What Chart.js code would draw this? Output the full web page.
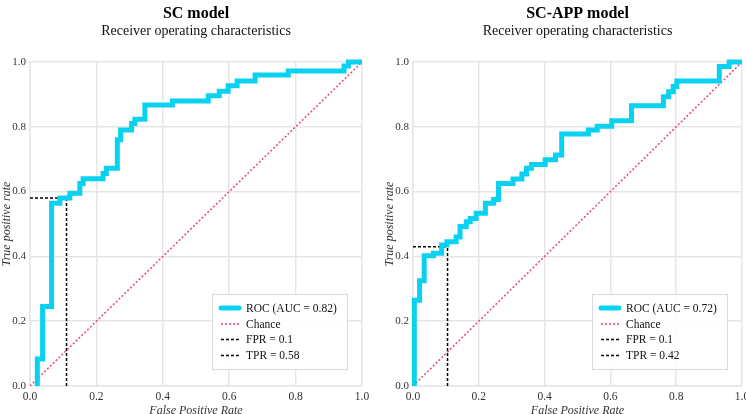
<!DOCTYPE html>
<html>
<head>
<meta charset="utf-8">
<script src="https://cdn.jsdelivr.net/npm/chart.js@4/dist/chart.umd.min.js"></script>
<style>
  html, body { margin: 0; padding: 0; background: #fff; overflow: hidden; }
  #wrap { display: flex; width: 746px; height: 414px; overflow: hidden; }
  canvas { display: block; }
</style>
</head>
<body>
<div id="wrap">
  <canvas id="scChart" width="373" height="418"></canvas>
  <canvas id="appChart" width="373" height="418"></canvas>
</div>
<script>
// ROC vertices (step-before)
var scFpr = [0.022, 0.022, 0.038, 0.065, 0.09, 0.12, 0.15, 0.16, 0.22, 0.23, 0.263, 0.273, 0.306, 0.316, 0.346, 0.429, 0.537, 0.57, 0.597, 0.624, 0.678, 0.778, 0.946, 0.959, 1.0];
var scTpr = [0.0, 0.083, 0.245, 0.564, 0.58, 0.595, 0.625, 0.64, 0.656, 0.672, 0.76, 0.79, 0.81, 0.823, 0.867, 0.88, 0.896, 0.91, 0.927, 0.941, 0.96, 0.972, 0.988, 1.0, 1.0];

var appFpr = [0.004, 0.004, 0.02, 0.034, 0.062, 0.087, 0.103, 0.131, 0.143, 0.162, 0.174, 0.192, 0.22, 0.245, 0.26, 0.304, 0.331, 0.345, 0.36, 0.402, 0.433, 0.452, 0.533, 0.56, 0.604, 0.664, 0.761, 0.777, 0.791, 0.802, 0.931, 0.961, 1.0];
var appTpr = [0.0, 0.265, 0.325, 0.402, 0.41, 0.435, 0.445, 0.46, 0.492, 0.507, 0.517, 0.533, 0.564, 0.576, 0.625, 0.639, 0.654, 0.672, 0.684, 0.698, 0.713, 0.778, 0.79, 0.802, 0.819, 0.865, 0.893, 0.908, 0.924, 0.941, 0.986, 1.0, 1.0];

var chanceX = [0, 1];
var chanceY = [0, 1];

// cut-off point [fpr, tpr] used for the dashed guide lines
var scCut = [0.11, 0.58];
var appCut = [0.105, 0.43];

var scLabels = ['ROC (AUC = 0.82)', 'Chance', 'FPR = 0.1', 'TPR = 0.58'];
var appLabels = ['ROC (AUC = 0.72)', 'Chance', 'FPR = 0.1', 'TPR = 0.42'];

var tickValues = [0, 0.2, 0.4, 0.6, 0.8, 1.0];

var SERIF = "'Liberation Serif', 'Times New Roman', serif";
var CYAN = 'rgb(8, 210, 240)';
var PINK = 'rgb(232, 70, 122)';
var GRID = '#e6e6e6';

function pts(xs, ys) {
  return xs.map(function (x, i) { return { x: x, y: ys[i] }; });
}

var rocLegend = {
  id: 'rocLegend',
  afterDatasetsDraw: function (chart, args, opts) {
    var ctx = chart.ctx, a = chart.chartArea;
    var w = 136, h = 76;
    var x0 = a.right - 14 - w, y0 = a.bottom - 16 - h;
    ctx.save();
    ctx.fillStyle = 'rgba(255,255,255,0.9)';
    ctx.fillRect(x0, y0, w, h);
    ctx.strokeStyle = '#dadada';
    ctx.lineWidth = 1;
    ctx.strokeRect(x0 + 0.5, y0 + 0.5, w - 1, h - 1);
    ctx.font = '11.5px ' + SERIF;
    ctx.textBaseline = 'middle';
    var rows = [14, 30, 45.5, 61.5];
    chart.data.datasets.forEach(function (ds, i) {
      var y = y0 + rows[i];
      ctx.beginPath();
      ctx.strokeStyle = ds.borderColor;
      ctx.lineWidth = ds.borderWidth;
      ctx.lineCap = i === 0 ? 'round' : 'butt';
      ctx.setLineDash(ds.borderDash || []);
      ctx.moveTo(x0 + 9, y);
      ctx.lineTo(x0 + 27, y);
      ctx.stroke();
      ctx.setLineDash([]);
      ctx.fillStyle = '#111';
      ctx.fillText(opts.labels[i], x0 + 34, y + 0.5);
    });
    ctx.restore();
  }
};

function axis(titleText, isX, size) {
  return {
    type: 'linear',
    min: 0,
    max: 1,
    afterBuildTicks: function (s) { s.ticks = tickValues.map(function (v) { return { value: v }; }); },
    ticks: {
      color: '#333',
      padding: 4,
      font: { family: SERIF, size: isX ? 11.5 : 11 },
      callback: function (v) { return v.toFixed(1); }
    },
    grid: { color: GRID, lineWidth: 1.5, drawTicks: false },
    border: { color: GRID, width: 1.5 },
    title: {
      display: true,
      text: titleText,
      color: '#333',
      padding: 0,
      font: { family: SERIF, size: 12, style: 'italic' }
    },
    afterFit: function (s) {
      if (isX) { s.height = size; s.paddingLeft = 0; s.paddingRight = 0; }
      else { s.width = size; s.paddingTop = 0; s.paddingBottom = 0; }
    }
  };
}

function makeChart(id, title, fpr, tpr, cut, labels, yWidth, padLeft, padRight) {
  return new Chart(document.getElementById(id), {
    type: 'line',
    data: {
      datasets: [{
        label: labels[0],
        data: pts(fpr, tpr),
        borderColor: CYAN,
        borderWidth: 5,
        stepped: 'before',
        pointRadius: 0,
        clip: 6
      }, {
        label: labels[1],
        data: pts(chanceX, chanceY),
        borderColor: PINK,
        borderWidth: 1.5,
        borderDash: [2, 2],
        pointRadius: 0
      }, {
        label: labels[2],
        data: pts([cut[0], cut[0]], [0, cut[1]]),
        borderColor: '#000',
        borderWidth: 1.5,
        borderDash: [3, 2],
        pointRadius: 0
      }, {
        label: labels[3],
        data: pts([0, cut[0]], [cut[1], cut[1]]),
        borderColor: '#000',
        borderWidth: 1.5,
        borderDash: [3, 2],
        pointRadius: 0
      }]
    },
    options: {
      responsive: false,
      animation: false,
      devicePixelRatio: 1,
      layout: { padding: { left: padLeft, right: padRight, top: 0, bottom: 0 } },
      scales: {
        x: axis('False Positive Rate', true, 32),
        y: axis('True positive rate', false, yWidth)
      },
      plugins: {
        legend: { display: false },
        tooltip: { enabled: false },
        title: {
          display: true,
          text: title,
          fullSize: false,
          color: '#000',
          font: { family: SERIF, size: 16, weight: 'bold' },
          padding: { top: 4, bottom: 0 }
        },
        subtitle: {
          display: true,
          text: 'Receiver operating characteristics',
          fullSize: false,
          color: '#111',
          font: { family: SERIF, size: 14 },
          padding: { top: 0, bottom: 22 }
        },
        rocLegend: { labels: labels }
      }
    },
    plugins: [rocLegend]
  });
}

makeChart('scChart', 'SC model', scFpr, scTpr, scCut, scLabels, 30, 0, 11);
makeChart('appChart', 'SC-APP model', appFpr, appTpr, appCut, appLabels, 30, 10, 4);
</script>
</body>
</html>
